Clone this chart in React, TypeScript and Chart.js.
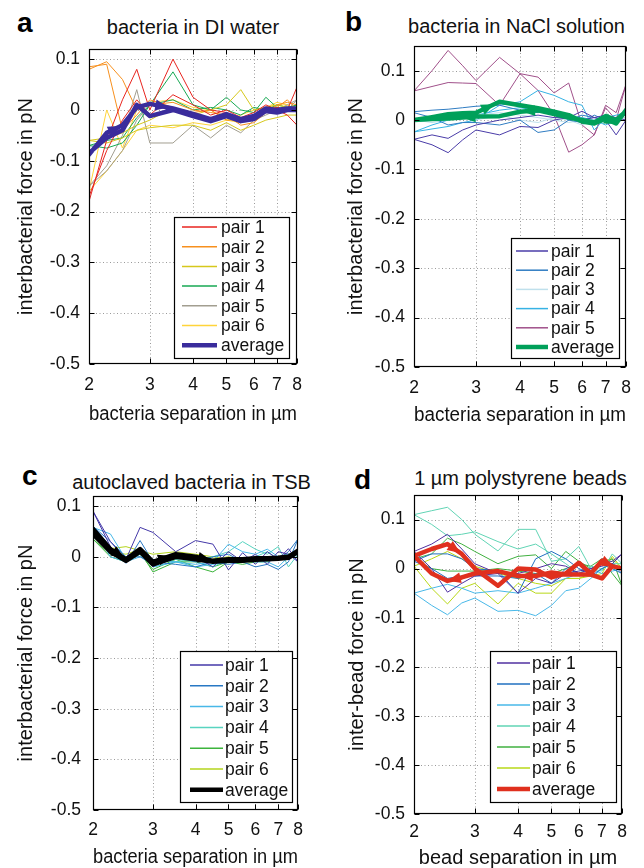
import React, { useEffect, useRef } from 'react';
import { Chart, registerables } from 'chart.js';
Chart.register(...registerables);

const FONT = '"Liberation Sans", Arial, Helvetica, sans-serif';

// ---------- shared axis data ----------
const X_STEPS = [2, 2.25, 2.5, 2.75, 3, 3.5, 4, 4.5, 5, 5.5, 6, 6.5, 7, 7.5, 8];
const X_TICKS = [2, 3, 4, 5, 6, 7, 8];
const Y_TICKS = [-0.5, -0.4, -0.3, -0.2, -0.1, 0, 0.1];

// ---------- panel a : bacteria in DI water ----------
const A_P1_OUT = [-0.18, -0.06, 0.02, 0.08, 0.0, 0.1, 0.025, 0.0, -0.005, -0.025, -0.01, 0.0, 0.005, 0.0, 0.045];
const A_P1_BACK = [-0.17, -0.08, -0.02, 0.02, -0.01, 0.03, 0.01, -0.01, 0.0, -0.015, -0.005, 0.01, 0.0, -0.01, -0.03];
const A_P2_OUT = [0.08, 0.095, 0.06, 0.0, 0.01, 0.015, 0.0, -0.005, -0.01, -0.03, -0.025, -0.005, 0.01, 0.015, 0.01];
const A_P2_BACK = [0.085, 0.09, -0.04, -0.01, 0.02, 0.005, -0.005, 0.0, -0.02, -0.02, -0.01, 0.0, 0.005, 0.02, 0.0];
const A_P3_OUT = [-0.06, -0.065, -0.055, -0.04, -0.035, -0.03, -0.03, -0.04, -0.025, -0.04, -0.03, -0.02, -0.015, -0.01, -0.01];
const A_P3_BACK = [-0.06, -0.055, -0.045, -0.03, -0.02, 0.005, -0.01, 0.0, 0.01, 0.04, 0.0, 0.005, 0.01, 0.005, 0.0];
const A_P4_OUT = [-0.07, -0.075, -0.065, -0.03, 0.01, 0.075, 0.01, 0.0, 0.025, 0.0, -0.005, 0.025, 0.005, 0.0, 0.01];
const A_P4_BACK = [-0.07, -0.06, -0.055, -0.015, 0.01, 0.02, 0.0, 0.005, 0.0, -0.01, 0.005, 0.0, 0.01, 0.005, 0.01];
const A_P5_OUT = [-0.15, -0.11, -0.05, 0.04, -0.065, -0.065, -0.03, -0.055, -0.03, -0.045, -0.02, -0.01, 0.0, 0.01, 0.02];
const A_P5_BACK = [-0.15, -0.12, -0.08, -0.02, 0.01, 0.005, -0.01, -0.02, -0.015, -0.025, -0.02, -0.005, 0.005, 0.0, 0.02];
const A_P6_OUT = [-0.16, 0.0, -0.075, 0.0, 0.015, 0.02, 0.005, 0.0, -0.02, -0.025, -0.01, 0.005, 0.015, 0.01, 0.0];
const A_P6_BACK = [-0.16, -0.12, -0.08, -0.04, -0.03, -0.035, -0.025, -0.03, -0.02, -0.01, 0.0, 0.005, 0.01, 0.01, 0.0];
const A_AVG_OUT = [-0.088, -0.045, -0.03, 0.005, 0.012, 0.003, -0.008, -0.018, -0.008, -0.018, -0.012, 0.003, 0.0, 0.003, 0.003];
const A_AVG_BACK = [-0.085, -0.055, -0.04, 0.01, -0.012, 0.0, -0.012, -0.022, -0.012, -0.022, -0.018, -0.002, -0.005, 0.0, 0.0];

// ---------- panel b : bacteria in NaCl solution ----------
const B_P1_OUT = [-0.039, -0.05, -0.066, -0.04, -0.02, -0.03, -0.013, -0.015, 0.0, 0.005, 0.018, 0.005, 0.0, -0.03, 0.0];
const B_P1_BACK = [-0.039, -0.03, -0.037, -0.02, -0.01, 0.0, 0.005, 0.01, 0.005, 0.005, 0.0, 0.005, 0.01, 0.005, 0.0];
const B_P2_OUT = [0.017, 0.02, 0.022, 0.025, 0.028, 0.03, 0.02, 0.015, 0.02, 0.0, 0.01, 0.005, 0.0, 0.005, 0.01];
const B_P2_BACK = [0.015, 0.005, -0.01, -0.005, -0.005, -0.01, 0.0, -0.025, -0.02, 0.0, -0.005, 0.01, 0.0, 0.005, 0.01];
const B_P3_OUT = [0.0, 0.005, 0.005, 0.01, 0.01, 0.015, 0.01, 0.005, 0.0, -0.005, 0.0, 0.0, -0.005, 0.0, 0.005];
const B_P3_BACK = [0.0, -0.005, 0.0, 0.005, 0.0, 0.01, 0.0, -0.005, 0.005, 0.0, -0.01, 0.0, 0.0, 0.005, 0.005];
const B_P4_OUT = [-0.024, -0.018, -0.013, -0.005, 0.0, 0.03, 0.037, 0.06, 0.05, 0.037, 0.03, -0.02, 0.005, 0.01, 0.015];
const B_P4_BACK = [-0.024, -0.01, 0.0, 0.005, 0.01, 0.02, 0.025, 0.02, 0.01, 0.0, 0.005, 0.0, -0.01, 0.0, 0.015];
const B_P5_OUT = [0.059, 0.1, 0.141, 0.11, 0.08, 0.127, 0.094, 0.087, 0.055, 0.075, -0.01, -0.03, 0.025, 0.0, 0.072];
const B_P5_BACK = [0.059, 0.068, 0.076, 0.075, 0.074, 0.03, 0.094, 0.06, 0.01, -0.065, -0.05, -0.03, 0.03, 0.015, 0.072];
const B_AVG_OUT = [0.0, 0.006, 0.012, 0.014, 0.015, 0.037, 0.03, 0.024, 0.017, 0.01, -0.003, -0.007, 0.003, -0.007, 0.02];
const B_AVG_BACK = [0.0, 0.002, 0.003, 0.005, 0.007, 0.008, 0.017, 0.02, 0.012, 0.005, 0.0, -0.005, 0.008, 0.0, 0.018];

// ---------- panel c : autoclaved bacteria in TSB ----------
const C_P1_OUT = [0.09, 0.03, -0.005, 0.058, 0.048, 0.01, 0.032, 0.025, -0.026, 0.008, -0.015, 0.01, -0.005, 0.016, -0.01];
const C_P1_BACK = [0.09, 0.02, -0.01, 0.01, -0.02, 0.005, 0.0, -0.02, 0.01, -0.01, 0.005, -0.015, 0.01, 0.005, -0.01];
const C_P2_OUT = [0.06, 0.02, -0.013, 0.032, -0.01, -0.015, -0.02, -0.01, -0.015, -0.01, -0.02, -0.015, -0.025, -0.01, 0.035];
const C_P2_BACK = [0.06, 0.03, 0.0, 0.0, -0.015, 0.0, -0.01, 0.0, 0.005, -0.01, 0.0, 0.0, -0.005, 0.01, 0.035];
const C_P3_OUT = [0.058, 0.045, -0.005, 0.005, -0.02, -0.01, -0.015, -0.01, 0.025, 0.01, 0.005, 0.015, 0.0, 0.005, 0.01];
const C_P3_BACK = [0.058, 0.0, -0.01, 0.0, -0.005, -0.01, -0.02, -0.015, -0.01, -0.005, -0.01, -0.01, -0.02, 0.0, 0.01];
const C_P4_OUT = [0.04, 0.01, 0.0, 0.015, -0.02, -0.01, -0.005, 0.0, 0.01, 0.03, 0.015, 0.005, 0.02, -0.02, 0.005];
const C_P4_BACK = [0.04, 0.015, -0.005, 0.01, -0.015, -0.005, -0.01, -0.02, -0.005, -0.01, 0.0, 0.01, -0.005, 0.0, 0.005];
const C_P5_OUT = [0.035, 0.005, -0.005, 0.01, -0.03, -0.01, -0.01, -0.02, -0.01, -0.015, -0.01, -0.01, 0.0, 0.005, 0.01];
const C_P5_BACK = [0.035, 0.0, -0.01, 0.005, -0.025, -0.005, -0.02, -0.03, -0.01, -0.005, -0.01, 0.0, -0.005, 0.0, 0.01];
const C_P6_OUT = [0.048, 0.016, 0.02, 0.012, 0.005, 0.01, 0.005, 0.0, -0.005, -0.005, 0.0, -0.005, 0.0, 0.005, 0.01];
const C_P6_BACK = [0.048, 0.01, 0.005, 0.015, -0.01, 0.0, -0.005, -0.005, 0.0, -0.005, -0.005, 0.0, 0.0, 0.005, 0.01];
const C_AVG_OUT = [0.055, 0.015, -0.005, 0.015, -0.01, 0.005, 0.0, -0.008, -0.005, -0.005, -0.003, -0.003, -0.002, 0.0, 0.012];
const C_AVG_BACK = [0.045, 0.01, -0.008, 0.01, -0.015, 0.0, -0.005, -0.01, -0.008, -0.008, -0.006, -0.005, -0.004, -0.002, 0.01];

// ---------- panel d : 1 µm polystyrene beads ----------
const D_P1_OUT = [0.035, 0.05, 0.07, 0.04, 0.01, -0.01, -0.05, -0.02, -0.03, -0.01, -0.005, 0.0, 0.01, 0.015, 0.03];
const D_P1_BACK = [0.035, 0.0, -0.048, -0.03, -0.015, -0.01, -0.01, 0.0, 0.01, 0.005, -0.01, 0.0, 0.005, 0.01, 0.03];
const D_P2_OUT = [0.015, 0.03, 0.03, 0.02, 0.0, -0.005, -0.05, 0.02, 0.035, 0.02, 0.0, -0.01, 0.02, 0.0, -0.01];
const D_P2_BACK = [0.015, 0.0, -0.02, -0.015, -0.015, -0.015, -0.02, -0.01, -0.03, 0.0, -0.01, -0.015, 0.0, 0.01, -0.01];
const D_P3_OUT = [-0.05, -0.075, -0.094, -0.07, -0.06, -0.087, -0.085, -0.096, -0.075, -0.045, -0.04, -0.02, 0.0, 0.01, 0.0];
const D_P3_BACK = [-0.05, -0.04, -0.032, -0.04, -0.05, -0.045, -0.05, -0.04, -0.03, -0.02, -0.01, 0.0, -0.01, -0.005, 0.0];
const D_P4_OUT = [0.11, 0.118, 0.125, 0.1, 0.07, 0.036, 0.08, 0.08, 0.015, 0.02, 0.045, 0.0, -0.005, 0.03, 0.01];
const D_P4_BACK = [0.11, 0.09, 0.067, 0.07, 0.075, 0.055, 0.04, 0.05, 0.03, 0.01, -0.01, 0.005, 0.0, 0.01, 0.01];
const D_P5_OUT = [0.02, 0.03, 0.062, 0.05, 0.035, 0.01, 0.025, 0.028, 0.0, 0.035, 0.015, 0.0, 0.01, 0.02, -0.035];
const D_P5_BACK = [0.02, 0.0, -0.005, -0.005, -0.005, 0.0, -0.005, -0.01, -0.01, 0.0, 0.01, 0.005, 0.02, -0.01, -0.035];
const D_P6_OUT = [0.005, -0.04, -0.072, -0.04, -0.03, -0.072, -0.03, -0.05, -0.05, -0.02, -0.02, -0.01, 0.015, 0.02, 0.0];
const D_P6_BACK = [0.005, 0.02, 0.035, 0.02, 0.005, -0.01, -0.02, -0.03, -0.035, -0.02, -0.02, -0.015, -0.01, 0.025, 0.0];
const D_AVG_OUT = [0.026, 0.04, 0.05, 0.03, 0.0, -0.035, 0.0, -0.002, -0.018, -0.01, 0.012, -0.01, 0.016, 0.005, 0.0];
const D_AVG_BACK = [0.026, -0.01, -0.025, -0.018, -0.01, -0.005, -0.015, -0.015, -0.008, -0.012, -0.012, -0.012, -0.02, 0.005, 0.0];

type Series = { label: string; out: number[]; back: number[]; color: string; width: number; arrows?: number[] };
type Legend = { x0: number; y0: number; x1: number; y1: number; row0: number; gap: number; sx0: number; sx1: number; tx: number };
type Panel = {
  key: string; letter: string; title: string; xTitle: string; yTitle: string; ymax: number;
  cx: number; cy: number; cw: number; ch: number; L: number; R: number; T: number; B: number;
  yTickPad: number; xTickPad: number; yTitlePad: number; xTitlePad: number;
  letterX: number; letterY: number; titleCx: number; titleTop: number;
  legend: Legend; series: Series[];
};

const PANELS: Panel[] = [
  {
    key: 'a', letter: 'a', title: 'bacteria in DI water', xTitle: 'bacteria separation in µm', yTitle: 'interbacterial force in pN', ymax: 0.12,
    cx: 0, cy: 38, cw: 318, ch: 390, L: 89, R: 297, T: 49, B: 364,
    yTickPad: 9, xTickPad: 10.5, yTitlePad: 16, xTitlePad: 4,
    letterX: 17, letterY: 9, titleCx: 193, titleTop: 17,
    legend: { x0: 174, y0: 217, x1: 289, y1: 358, row0: 227, gap: 19.7, sx0: 182, sx1: 217, tx: 221 },
    series: [
      { label: 'pair 1', out: A_P1_OUT, back: A_P1_BACK, color: '#e8251f', width: 1 },
      { label: 'pair 2', out: A_P2_OUT, back: A_P2_BACK, color: '#f7901e', width: 1 },
      { label: 'pair 3', out: A_P3_OUT, back: A_P3_BACK, color: '#d6c81c', width: 1 },
      { label: 'pair 4', out: A_P4_OUT, back: A_P4_BACK, color: '#17a853', width: 1 },
      { label: 'pair 5', out: A_P5_OUT, back: A_P5_BACK, color: '#a29e90', width: 1 },
      { label: 'pair 6', out: A_P6_OUT, back: A_P6_BACK, color: '#ffd43a', width: 1 },
      { label: 'average', out: A_AVG_OUT, back: A_AVG_BACK, color: '#3a2c9c', width: 4.5, arrows: [2, 5] },
    ],
  },
  {
    key: 'b', letter: 'b', title: 'bacteria in NaCl solution', xTitle: 'bacteria separation in µm', yTitle: 'interbacterial force in pN', ymax: 0.15,
    cx: 330, cy: 38, cw: 314, ch: 391, L: 414, R: 626, T: 46, B: 367,
    yTickPad: 9, xTickPad: 10.5, yTitlePad: 16, xTitlePad: 4,
    letterX: 345, letterY: 8, titleCx: 516.5, titleTop: 16,
    legend: { x0: 511, y0: 238, x1: 619, y1: 358, row0: 251, gap: 19.2, sx0: 516, sx1: 548, tx: 551 },
    series: [
      { label: 'pair 1', out: B_P1_OUT, back: B_P1_BACK, color: '#4a3ca8', width: 1 },
      { label: 'pair 2', out: B_P2_OUT, back: B_P2_BACK, color: '#2f7cc2', width: 1 },
      { label: 'pair 3', out: B_P3_OUT, back: B_P3_BACK, color: '#bfe0ec', width: 1 },
      { label: 'pair 4', out: B_P4_OUT, back: B_P4_BACK, color: '#36b2e4', width: 1 },
      { label: 'pair 5', out: B_P5_OUT, back: B_P5_BACK, color: '#a0508a', width: 1 },
      { label: 'average', out: B_AVG_OUT, back: B_AVG_BACK, color: '#00a05a', width: 4.5, arrows: [5, 13, 23, 26] },
    ],
  },
  {
    key: 'c', letter: 'c', title: 'autoclaved bacteria in TSB', xTitle: 'bacteria separation in µm', yTitle: 'interbacterial force in pN', ymax: 0.12,
    cx: 0, cy: 490, cw: 318, ch: 378, L: 93, R: 298, T: 496, B: 810,
    yTickPad: 12, xTickPad: 9.5, yTitlePad: 16, xTitlePad: 1,
    letterX: 22, letterY: 462, titleCx: 191.5, titleTop: 472,
    legend: { x0: 180, y0: 651, x1: 292, y1: 802, row0: 665, gap: 20.8, sx0: 190, sx1: 223, tx: 225 },
    series: [
      { label: 'pair 1', out: C_P1_OUT, back: C_P1_BACK, color: '#4438a8', width: 1 },
      { label: 'pair 2', out: C_P2_OUT, back: C_P2_BACK, color: '#2878c4', width: 1 },
      { label: 'pair 3', out: C_P3_OUT, back: C_P3_BACK, color: '#48b8e8', width: 1 },
      { label: 'pair 4', out: C_P4_OUT, back: C_P4_BACK, color: '#58d4c0', width: 1 },
      { label: 'pair 5', out: C_P5_OUT, back: C_P5_BACK, color: '#3cb43c', width: 1 },
      { label: 'pair 6', out: C_P6_OUT, back: C_P6_BACK, color: '#b4d41c', width: 1 },
      { label: 'average', out: C_AVG_OUT, back: C_AVG_BACK, color: '#000000', width: 4.5, arrows: [2, 5, 7] },
    ],
  },
  {
    key: 'd', letter: 'd', title: '1 µm polystyrene beads', xTitle: 'bead separation in µm', yTitle: 'inter-bead force in pN', ymax: 0.15,
    cx: 330, cy: 490, cw: 314, ch: 378, L: 414, R: 622, T: 495, B: 814,
    yTickPad: 9, xTickPad: 7.5, yTitlePad: 17, xTitlePad: 0,
    letterX: 354, letterY: 466, titleCx: 520.5, titleTop: 468,
    legend: { x0: 490, y0: 651, x1: 616, y1: 802, row0: 663, gap: 21, sx0: 497, sx1: 530, tx: 532 },
    series: [
      { label: 'pair 1', out: D_P1_OUT, back: D_P1_BACK, color: '#5030a0', width: 1 },
      { label: 'pair 2', out: D_P2_OUT, back: D_P2_BACK, color: '#2070c0', width: 1 },
      { label: 'pair 3', out: D_P3_OUT, back: D_P3_BACK, color: '#48b8e8', width: 1 },
      { label: 'pair 4', out: D_P4_OUT, back: D_P4_BACK, color: '#60d4b4', width: 1 },
      { label: 'pair 5', out: D_P5_OUT, back: D_P5_BACK, color: '#40b040', width: 1 },
      { label: 'pair 6', out: D_P6_OUT, back: D_P6_BACK, color: '#b8d818', width: 1 },
      { label: 'average', out: D_AVG_OUT, back: D_AVG_BACK, color: '#e0301e', width: 4.5, arrows: [3, 13, 23, 27] },
    ],
  },
];

function buildPath(out: number[], back: number[]) {
  const fwd = X_STEPS.map((x, i) => ({ x, y: out[i] }));
  const rev = X_STEPS.map((x, i) => ({ x, y: back[i] })).reverse();
  return fwd.concat(rev);
}

function framePlugin(p: Panel) {
  return {
    id: 'frame_' + p.key,
    beforeDatasetsDraw(chart: any) {
      const { ctx, chartArea: a, scales } = chart;
      ctx.save();
      ctx.strokeStyle = '#9a9a9a';
      ctx.lineWidth = 1;
      ctx.setLineDash([1, 2.5]);
      for (const v of X_TICKS) {
        if (v === 2 || v === 8) continue;
        const px = Math.round(scales.x.getPixelForValue(v)) + 0.5;
        ctx.beginPath(); ctx.moveTo(px, a.top); ctx.lineTo(px, a.bottom); ctx.stroke();
      }
      for (const v of Y_TICKS) {
        if (v <= -0.5) continue;
        const py = Math.round(scales.y.getPixelForValue(v)) + 0.5;
        ctx.beginPath(); ctx.moveTo(a.left, py); ctx.lineTo(a.right, py); ctx.stroke();
      }
      ctx.restore();
    },
    afterDatasetsDraw(chart: any) {
      const { ctx, chartArea: a, scales } = chart;
      // arrowheads along the average path
      p.series.forEach((s, di) => {
        if (!s.arrows) return;
        const meta = chart.getDatasetMeta(di);
        for (const i of s.arrows) {
          const p0 = meta.data[i - 1], p1 = meta.data[i];
          if (!p0 || !p1) continue;
          const mx = (p0.x + p1.x) / 2, my = (p0.y + p1.y) / 2;
          const ang = Math.atan2(p1.y - p0.y, p1.x - p0.x);
          ctx.save();
          ctx.translate(mx, my);
          ctx.rotate(ang);
          ctx.beginPath();
          ctx.moveTo(7, 0); ctx.lineTo(-6, -5.5); ctx.lineTo(-6, 5.5); ctx.closePath();
          ctx.fillStyle = s.color;
          ctx.fill();
          ctx.restore();
        }
      });
      // frame box
      ctx.save();
      ctx.strokeStyle = '#000';
      ctx.lineWidth = 1.2;
      ctx.setLineDash([]);
      const l = Math.round(a.left) + 0.5, r = Math.round(a.right) - 0.5, t = Math.round(a.top) + 0.5, b = Math.round(a.bottom) - 0.5;
      ctx.strokeRect(l, t, r - l, b - t);
      // inner tick marks
      ctx.lineWidth = 1;
      const tl = 5;
      for (const v of X_TICKS) {
        const px = Math.round(scales.x.getPixelForValue(v)) + 0.5;
        ctx.beginPath(); ctx.moveTo(px, b); ctx.lineTo(px, b - tl); ctx.moveTo(px, t); ctx.lineTo(px, t + tl); ctx.stroke();
      }
      for (const v of Y_TICKS) {
        const py = Math.round(scales.y.getPixelForValue(v)) + 0.5;
        ctx.beginPath(); ctx.moveTo(l, py); ctx.lineTo(l + tl, py); ctx.moveTo(r, py); ctx.lineTo(r - tl, py); ctx.stroke();
      }
      // legend
      const lg = p.legend;
      const ox = p.cx, oy = p.cy;
      ctx.fillStyle = '#fff';
      ctx.fillRect(lg.x0 - ox, lg.y0 - oy, lg.x1 - lg.x0, lg.y1 - lg.y0);
      ctx.strokeStyle = '#000';
      ctx.lineWidth = 1.2;
      ctx.strokeRect(Math.round(lg.x0 - ox) + 0.5, Math.round(lg.y0 - oy) + 0.5, Math.round(lg.x1 - lg.x0), Math.round(lg.y1 - lg.y0));
      ctx.font = `17.5px ${FONT}`;
      ctx.textBaseline = 'middle';
      ctx.textAlign = 'left';
      p.series.forEach((s, i) => {
        const y = lg.row0 + i * lg.gap - oy;
        ctx.strokeStyle = s.color;
        ctx.lineWidth = s.width > 2 ? 4.5 : 1.5;
        ctx.beginPath(); ctx.moveTo(lg.sx0 - ox, y); ctx.lineTo(lg.sx1 - ox, y); ctx.stroke();
        ctx.fillStyle = '#111';
        ctx.fillText(s.label, lg.tx - ox, y + 1);
      });
      ctx.restore();
    },
  };
}

function PanelChart({ p }: { p: Panel }) {
  const ref = useRef<HTMLCanvasElement | null>(null);
  useEffect(() => {
    if (!ref.current) return;
    const datasets = p.series.map((s) => ({
      label: s.label,
      data: buildPath(s.out, s.back),
      borderColor: s.color,
      backgroundColor: s.color,
      borderWidth: s.width,
      pointRadius: 0,
      fill: false,
      tension: 0,
      borderJoinStyle: 'round' as const,
      borderCapStyle: 'round' as const,
      order: s.width > 2 ? 0 : 1,
    }));
    const tickFont = { family: FONT, size: 17.5 };
    const titleFont = { family: FONT, size: 20, lineHeight: 1 };
    const chart = new Chart(ref.current, {
      type: 'line',
      data: { datasets },
      plugins: [framePlugin(p)],
      options: {
        animation: false,
        responsive: false,
        maintainAspectRatio: false,
        events: [],
        layout: { padding: { left: 0, top: p.T - p.cy, right: p.cx + p.cw - p.R, bottom: 0 } },
        plugins: { legend: { display: false }, tooltip: { enabled: false }, title: { display: false } },
        scales: {
          x: {
            type: 'logarithmic',
            min: 2,
            max: 8,
            grid: { display: false, drawTicks: false },
            border: { display: false },
            afterBuildTicks: (axis: any) => { axis.ticks = X_TICKS.map((v) => ({ value: v })); },
            afterFit: (s: any) => {
              s.height = p.cy + p.ch - p.B;
              s.paddingLeft = 0; s.paddingRight = 0; s.paddingTop = 0; s.paddingBottom = 0;
            },
            ticks: {
              autoSkip: false, maxRotation: 0, minRotation: 0, padding: p.xTickPad,
              color: '#111', font: tickFont,
              callback: (v: any) => String(v),
            },
            title: { display: true, text: p.xTitle, color: '#111', font: titleFont, padding: { top: 0, bottom: p.xTitlePad } },
          },
          y: {
            type: 'linear',
            min: -0.5,
            max: p.ymax,
            grid: { display: false, drawTicks: false },
            border: { display: false },
            afterBuildTicks: (axis: any) => { axis.ticks = Y_TICKS.map((v) => ({ value: v })); },
            afterFit: (s: any) => {
              s.width = p.L - p.cx;
              s.paddingLeft = 0; s.paddingRight = 0; s.paddingTop = 0; s.paddingBottom = 0;
            },
            ticks: {
              padding: p.yTickPad, color: '#111', font: tickFont,
              callback: (v: any) => (Math.abs(v) < 1e-9 ? '0' : Number(v).toFixed(1)),
            },
            title: { display: true, text: p.yTitle, color: '#111', font: titleFont, padding: { top: p.yTitlePad, bottom: 0 } },
          },
        },
      } as any,
    });
    return () => chart.destroy();
  }, [p]);
  return (
    <canvas
      ref={ref}
      width={p.cw}
      height={p.ch}
      style={{ position: 'absolute', left: p.cx, top: p.cy, width: p.cw, height: p.ch }}
    />
  );
}

export default function App() {
  return (
    <div style={{ position: 'fixed', left: 0, top: 0, width: 644, height: 868, background: '#fff', overflow: 'hidden', fontFamily: FONT, color: '#111' }}>
      {PANELS.map((p) => (
        <React.Fragment key={p.key}>
          <div style={{ position: 'absolute', left: p.letterX, top: p.letterY, fontSize: 28, lineHeight: '28px', fontWeight: 'bold', color: '#000' }}>{p.letter}</div>
          <div style={{ position: 'absolute', left: p.titleCx, top: p.titleTop, transform: 'translateX(-50%)', fontSize: 20, lineHeight: '20px', whiteSpace: 'nowrap' }}>{p.title}</div>
          <PanelChart p={p} />
        </React.Fragment>
      ))}
    </div>
  );
}
